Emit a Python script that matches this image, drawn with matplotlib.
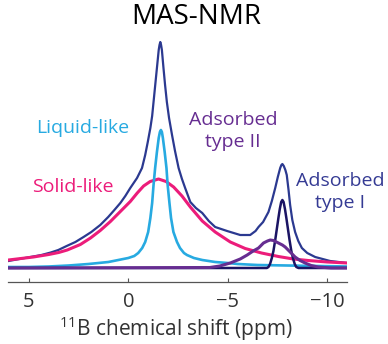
import matplotlib
matplotlib.use("Agg")
import matplotlib.pyplot as plt

plt.rcParams["font.family"] = ["Open Sans", "DejaVu Sans"]
plt.rcParams["mathtext.fontset"] = "custom"
plt.rcParams["mathtext.rm"] = "Open Sans"

# values: shift (ppm) and intensity (a.u.)
total_ppm = [6.03, 5.2, 4.37, 3.9, 3.52, 3.1, 2.66, 2.25, 1.86, 1.41, 1.01, 0.7, 0.40, 0.15,
             -0.10, -0.44, -0.69, -0.85, -0.98, -1.11, -1.2, -1.27, -1.36, -1.44, -1.53,
             -1.57, -1.61, -1.65, -1.69, -1.77, -1.85, -1.94, -2.05, -2.20, -2.35, -2.53,
             -2.7, -2.86, -3.12, -3.4, -3.72, -4.05, -4.37, -4.97, -5.63, -6.13, -6.4,
             -6.55, -6.78, -7.05, -7.22, -7.39, -7.52, -7.64, -7.7, -7.75, -7.82, -7.9,
             -7.97, -8.06, -8.14, -8.25, -8.39, -8.55, -8.73, -9.0, -9.40, -10.15, -11.0]
total_int = [7, 10, 13, 15.5, 18, 22, 26, 31, 36, 43, 51, 58, 65, 72,
             80, 90, 100, 113, 126, 140, 152, 166, 184, 200, 218,
             223, 226, 223, 218, 200, 183, 166, 150, 133, 117, 100,
             89, 80, 66, 60, 55, 47, 41, 37, 33, 33, 37,
             41, 46, 56, 67, 80, 91, 100, 103, 104, 102, 98,
             93, 78, 63, 48, 36, 27, 20, 15, 11, 7, 5]

liquid_ppm = [6.03, 5.0, 4.0, 3.0, 2.0, 1.5, 1.0, 0.5, 0.0, -0.3, -0.5, -0.7, -0.85, -1.0,
              -1.11, -1.2, -1.27, -1.35, -1.44, -1.53, -1.59, -1.64, -1.69, -1.74, -1.83,
              -1.92, -1.98, -2.07, -2.15, -2.27, -2.45, -2.6, -2.8, -2.95, -3.3, -3.72,
              -4.37, -5.0, -5.5, -6.5, -8.0, -9.5, -11.0]
liquid_int = [1, 1, 1.5, 2.5, 4, 5, 6, 8, 10, 12, 15, 20, 26, 36,
              50, 65, 83, 100, 116, 130, 136, 138, 136, 130, 116,
              100, 83, 65, 50, 36, 26, 20, 15, 13, 10, 8,
              6, 5, 4, 3, 2.5, 2, 1.5]

solid_ppm = [6.03, 5.4, 4.77, 4.0, 3.5, 3.07, 2.41, 1.9, 1.41, 0.9, 0.40, -0.10, -0.45,
             -0.77, -1.1, -1.52, -1.9, -2.28, -2.7, -3.12, -3.72, -4.37, -5.13, -5.88,
             -6.7, -7.55, -8.3, -9.05, -10.0, -11.0]
solid_int = [8, 9.5, 11, 13.5, 15.5, 18, 23.5, 30, 37.5, 46.5, 56.5, 66.5, 75,
             82, 86.5, 89, 86.5, 81, 72, 61, 47, 36, 26, 19.5,
             15, 11.5, 9, 7.5, 6, 5]

type1_ppm = [6.03, -6.97, -7.05, -7.13, -7.22, -7.30, -7.39, -7.47, -7.55, -7.62, -7.69,
             -7.75, -7.81, -7.88, -7.95, -8.03, -8.11, -8.2, -8.28, -8.37, -8.45, -8.56,
             -11.0]
type1_int = [0, 0, 1, 4, 10, 17, 28, 39, 50, 59, 66,
             68, 66, 59, 50, 39, 28, 17, 10, 4, 1, 0,
             0]

type2_ppm = [6.03, -4.1, -4.6, -5.13, -5.63, -5.98, -6.28, -6.55, -6.8, -7.0, -7.14, -7.3,
             -7.45, -7.6, -7.75, -7.89, -8.14, -8.39, -8.64, -8.89, -9.2, -9.55, -10.2,
             -11.0]
type2_int = [0, 0.5, 2, 5, 9, 13, 17, 20, 25, 27, 28, 27.5,
             26, 24.5, 23, 21, 16, 11, 7.5, 5, 2.5, 1, 0,
             0]

xticks = [5, 0, -5, -10]

navy = "#2b3990"
cyan = "#27aae1"
pink = "#ec1c7a"
purple = "#662d91"
dark = "#1b1464"

fig = plt.figure(figsize=(3.88, 3.44), dpi=100)
ax = fig.add_axes([8 / 388, 62 / 344, 339 / 388, 252 / 344])

ax.plot(total_ppm, total_int, color=navy, lw=1.6)
ax.plot(solid_ppm, solid_int, color=pink, lw=2.2)
ax.plot(liquid_ppm, liquid_int, color=cyan, lw=1.9)
ax.plot(type1_ppm, type1_int, color=dark, lw=1.8)
ax.plot(type2_ppm, type2_int, color=purple, lw=2.2)

ax.set_xlim(6.05, -11.0)
ax.set_ylim(-14, 238)
ax.set_xticks(xticks)
ax.set_yticks([])
for s in ["top", "left", "right"]:
    ax.spines[s].set_visible(False)
ax.spines["bottom"].set_color("#555555")
ax.spines["bottom"].set_linewidth(0.9)
ax.tick_params(axis="x", direction="in", length=3, width=0.8, color="#555555",
               labelsize=14.5, labelcolor="#333333", pad=7)

ax.text(2.29, 140, "Liquid-like", color=cyan, fontsize=14, ha="center", va="center")
ax.text(2.79, 81, "Solid-like", color=pink, fontsize=14, ha="center", va="center")
ax.text(-5.28, 137, "Adsorbed\ntype II", color=purple, fontsize=14, ha="center",
        va="center", linespacing=1.3)
ax.text(-10.65, 76, "Adsorbed\ntype I", color="#353b94", fontsize=14, ha="center",
        va="center", linespacing=1.3, clip_on=False)

fig.text(196 / 388, 1 - 17 / 344, "MAS-NMR", fontsize=20, ha="center", va="center")
fig.text(176 / 388, 15 / 344, "$^{11}$B chemical shift (ppm)", fontsize=15,
         ha="center", va="center", color="#333333")

fig.savefig("out.png", dpi=100)
